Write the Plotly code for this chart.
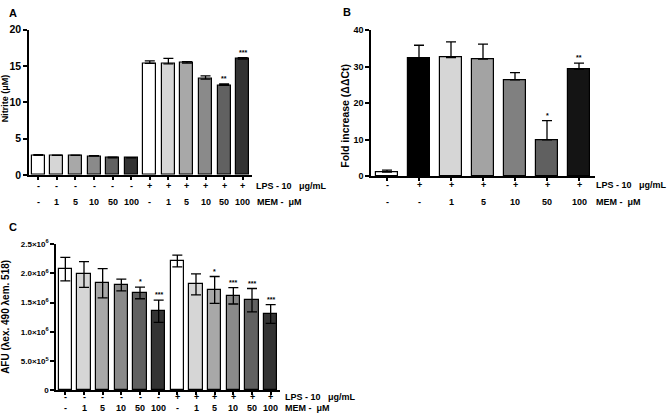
import plotly.graph_objects as go

# ---------------- data ----------------
A_lps = ["-"] * 6 + ["+"] * 6
A_mem = ["-", "1", "5", "10", "50", "100"] * 2
A_vals = [2.7, 2.7, 2.7, 2.6, 2.35, 2.35, 15.35, 15.3, 15.4, 13.2, 12.35, 15.95]
A_err = [0.1, 0.05, 0.05, 0.08, 0.1, 0.05, 0.35, 0.75, 0.2, 0.45, 0.2, 0.2]
A_sig = ["", "", "", "", "", "", "", "", "", "", "**", "***"]
A_colors = ["#ffffff", "#d6d6d6", "#a8a8a8", "#8a8a8a", "#616161", "#333333"] * 2

B_lps = ["-", "+", "+", "+", "+", "+", "+"]
B_mem = ["-", "-", "1", "5", "10", "50", "100"]
B_vals = [1.1, 32.3, 32.5, 32.1, 26.4, 9.9, 29.3]
B_err = [0.5, 3.6, 4.3, 4.1, 2.0, 5.3, 1.7]
B_sig = ["", "", "", "", "", "*", "**"]
B_colors = ["#ffffff", "#000000", "#d6d6d6", "#a3a3a3", "#808080", "#606060", "#141414"]

C_lps = ["-"] * 6 + ["+"] * 6
C_mem = ["-", "1", "5", "10", "50", "100"] * 2
C_vals = [2.07e6, 1.98e6, 1.83e6, 1.80e6, 1.665e6, 1.35e6,
          2.21e6, 1.81e6, 1.715e6, 1.615e6, 1.54e6, 1.305e6]
C_err = [0.2e6, 0.22e6, 0.25e6, 0.1e6, 0.1e6, 0.19e6,
         0.1e6, 0.18e6, 0.23e6, 0.14e6, 0.2e6, 0.16e6]
C_sig = ["", "", "", "", "*", "***", "", "", "*", "***", "***", "***"]
C_colors = ["#ffffff", "#d6d6d6", "#a8a8a8", "#8a8a8a", "#616161", "#333333"] * 2
C_ticks = [0, 5e5, 1e6, 1.5e6, 2e6, 2.5e6]
C_ticktext = ["0", "5.0×10<sup>5</sup>", "1.0×10<sup>6</sup>", "1.5×10<sup>6</sup>",
              "2.0×10<sup>6</sup>", "2.5×10<sup>6</sup>"]

FONT = "Arial, Liberation Sans, sans-serif"
W, H = 667, 420

fig = go.Figure()


def add_panel(idx, vals, err, colors, width, symmetric):
    n = len(vals)
    fig.add_trace(go.Bar(
        x=list(range(n)), y=vals, width=width,
        marker=dict(color=colors, line=dict(color="black", width=1.2)),
        error_y=dict(type="data", array=err,
                     arrayminus=(err if symmetric else [0] * n),
                     symmetric=symmetric, color="black", thickness=1.3, width=5),
        xaxis="x" + ("" if idx == 1 else str(idx)),
        yaxis="y" + ("" if idx == 1 else str(idx)),
        showlegend=False, hoverinfo="skip",
    ))


add_panel(1, A_vals, A_err, A_colors, 0.7, False)
add_panel(2, B_vals, B_err, B_colors, 0.66, False)
add_panel(3, C_vals, C_err, C_colors, 0.7, True)


def px_x(p):
    return p / W


def px_y(p):
    return (H - p) / H


axis_common = dict(showgrid=False, zeroline=False, showline=True, linecolor="black",
                   linewidth=1.5, ticks="outside", tickcolor="black", tickwidth=1.5)

layout = dict(
    width=W, height=H, margin=dict(l=0, r=0, t=0, b=0),
    plot_bgcolor="white", paper_bgcolor="white", bargap=0,
    font=dict(family=FONT, color="black"),
)

layout["xaxis"] = dict(axis_common, domain=[px_x(29), px_x(252)], range=[-0.5, 11.5],
                       tickvals=list(range(12)), showticklabels=False, ticklen=3,
                       anchor="y")
layout["yaxis"] = dict(axis_common, domain=[px_y(174), px_y(24.3)], range=[0, 20],
                       tickvals=[0, 5, 10, 15, 20], ticklen=4, anchor="x",
                       tickfont=dict(size=10.5, family=FONT, weight="bold"))
layout["xaxis2"] = dict(axis_common, domain=[px_x(371), px_x(595)], range=[-0.5, 6.5],
                        tickvals=list(range(7)), showticklabels=False, ticklen=3,
                        anchor="y2")
layout["yaxis2"] = dict(axis_common, domain=[px_y(175), px_y(25)], range=[0, 40],
                        tickvals=[0, 10, 20, 30, 40], ticklen=4, anchor="x2",
                        tickfont=dict(size=9, family=FONT, weight="bold"))
layout["xaxis3"] = dict(axis_common, domain=[px_x(56), px_x(280)], range=[-0.5, 11.5],
                        tickvals=list(range(12)), showticklabels=False, ticklen=3,
                        anchor="y3")
layout["yaxis3"] = dict(axis_common, domain=[px_y(395.7), px_y(245)], range=[0, 2.5e6],
                        tickvals=C_ticks, ticktext=C_ticktext, ticklen=4, anchor="x3",
                        tickfont=dict(size=8, family=FONT, weight="bold"))

ann = []


def lab(text, x, y, size=9, xref="paper", yref="paper", xanchor="center",
        yanchor="middle", angle=0, weight="bold"):
    ann.append(dict(text=text, x=x, y=y, xref=xref, yref=yref, xanchor=xanchor,
                    yanchor=yanchor, showarrow=False, textangle=angle,
                    font=dict(size=size, family=FONT, color="black", weight=weight)))


# panel letters
lab("A", px_x(13), px_y(7), size=11)
lab("B", px_x(347), px_y(6), size=11)
lab("C", px_x(13), px_y(227), size=11)

# axis titles
lab("Nitrite (μM)", px_x(5), px_y(95), size=9, angle=-90)
lab("Fold increase (ΔΔCt)", px_x(345), px_y(113), size=10.5, angle=-90)
lab("AFU (λex. 490 λem. 518)", px_x(6), px_y(320), size=10, angle=-90)

NB = "\u00a0"
# condition rows
for i, (l, m) in enumerate(zip(A_lps, A_mem)):
    lab(l, i, px_y(185), size=9, xref="x")
    lab(m, i, px_y(202), size=9, xref="x")
lab("LPS - 10" + NB * 3 + "μg/mL", px_x(254), px_y(185), size=9, xanchor="left")
lab("MEM -" + NB * 2 + "μM", px_x(255), px_y(202), size=9, xanchor="left")

for i, (l, m) in enumerate(zip(B_lps, B_mem)):
    lab(l, i, px_y(184), size=9, xref="x2")
    lab(m, i, px_y(202), size=9, xref="x2")
lab("LPS - 10" + NB * 3 + "μg/mL", px_x(594), px_y(184), size=9, xanchor="left")
lab("MEM -" + NB * 2 + "μM", px_x(594), px_y(202), size=9, xanchor="left")

for i, (l, m) in enumerate(zip(C_lps, C_mem)):
    lab(l, i, px_y(402), size=9, xref="x3")
    lab(m, i, px_y(414), size=9, xref="x3")
lab("LPS - 10" + NB * 3 + "μg/mL", px_x(283), px_y(402), size=9, xanchor="left")
lab("MEM -" + NB * 2 + "μM", px_x(283), px_y(414), size=9, xanchor="left")

# significance marks
for i, s in enumerate(A_sig):
    if s:
        lab(s, i, A_vals[i] + A_err[i], size=7, xref="x", yref="y", yanchor="bottom")
for i, s in enumerate(B_sig):
    if s:
        lab(s, i, B_vals[i] + B_err[i], size=7, xref="x2", yref="y2", yanchor="bottom")
for i, s in enumerate(C_sig):
    if s:
        lab(s, i, C_vals[i] + C_err[i], size=7, xref="x3", yref="y3", yanchor="bottom")

layout["annotations"] = ann
fig.update_layout(**layout)
fig.write_html(
    "out.html",
    config={"displayModeBar": False},
    post_script="document.body.style.margin='0';document.body.style.padding='0';"
                "document.body.style.overflow='hidden';",
)
